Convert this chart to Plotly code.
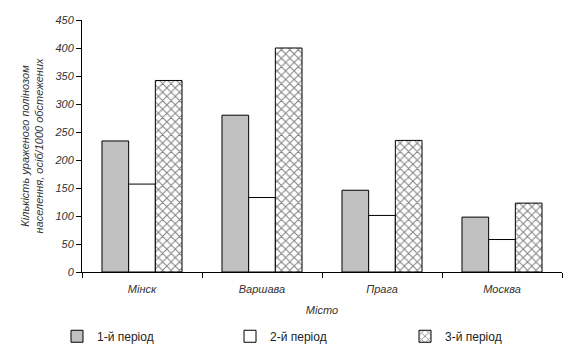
import plotly.graph_objects as go

cities = ["Мінск", "Варшава", "Прага", "Москва"]
period1 = [234, 280, 146, 98]
period2 = [157, 133, 101, 58]
period3 = [342, 400, 235, 123]
series_names = ["1-й період", "2-й період", "3-й період"]
y_ticks = [0, 50, 100, 150, 200, 250, 300, 350, 400, 450]

FONT = "Arial, Liberation Sans, sans-serif"

fig = go.Figure()
fig.add_trace(go.Bar(x=cities, y=period1, name=series_names[0], legend="legend",
                     marker=dict(color="#c0c0c0", line=dict(color="black", width=1))))
fig.add_trace(go.Bar(x=cities, y=period2, name=series_names[1], legend="legend2",
                     marker=dict(color="white", line=dict(color="black", width=1))))
fig.add_trace(go.Bar(x=cities, y=period3, name=series_names[2], legend="legend3",
                     marker=dict(color="white", line=dict(color="black", width=1),
                                 pattern=dict(shape="x", fgcolor="black", bgcolor="white",
                                              size=6, solidity=0.3))))

leg_common = dict(orientation="h", yref="container", y=0.042, yanchor="middle",
                  xref="container", xanchor="left",
                  font=dict(family=FONT, size=12, color="#222"),
                  bgcolor="rgba(0,0,0,0)", itemwidth=30)

fig.update_layout(
    width=573, height=351,
    margin=dict(l=82, r=11, t=20, b=79, autoexpand=False),
    paper_bgcolor="white", plot_bgcolor="white",
    barmode="group", bargap=0.333, bargroupgap=0,
    font=dict(family=FONT, size=11, color="#222"),
    showlegend=True,
    legend=dict(x=(57) / 573, **leg_common),
    legend2=dict(x=(230) / 573, **leg_common),
    legend3=dict(x=(405) / 573, **leg_common),
)
fig.update_xaxes(
    showline=True, linecolor="black", linewidth=1,
    ticks="outside", ticklen=5, tickcolor="black", tickson="boundaries",
    ticklabelstandoff=7,
    tickfont=dict(family=FONT, size=11, color="#333", style="italic"),
    title=dict(text="Місто", font=dict(family=FONT, size=11, color="#333", style="italic"), standoff=12),
    showgrid=False,
)
fig.update_yaxes(
    range=[0, 450], tickvals=y_ticks,
    showline=True, linecolor="black", linewidth=1,
    ticks="outside", ticklen=5, tickcolor="black",
    tickfont=dict(family=FONT, size=11, color="#333", style="italic"),
    title=dict(text="Кількість ураженого полінозом<br>населення, осіб/1000 обстежених",
               font=dict(family=FONT, size=11, color="#333", style="italic"), standoff=8),
    showgrid=False, zeroline=False,
)

fig.write_html("out.html")
